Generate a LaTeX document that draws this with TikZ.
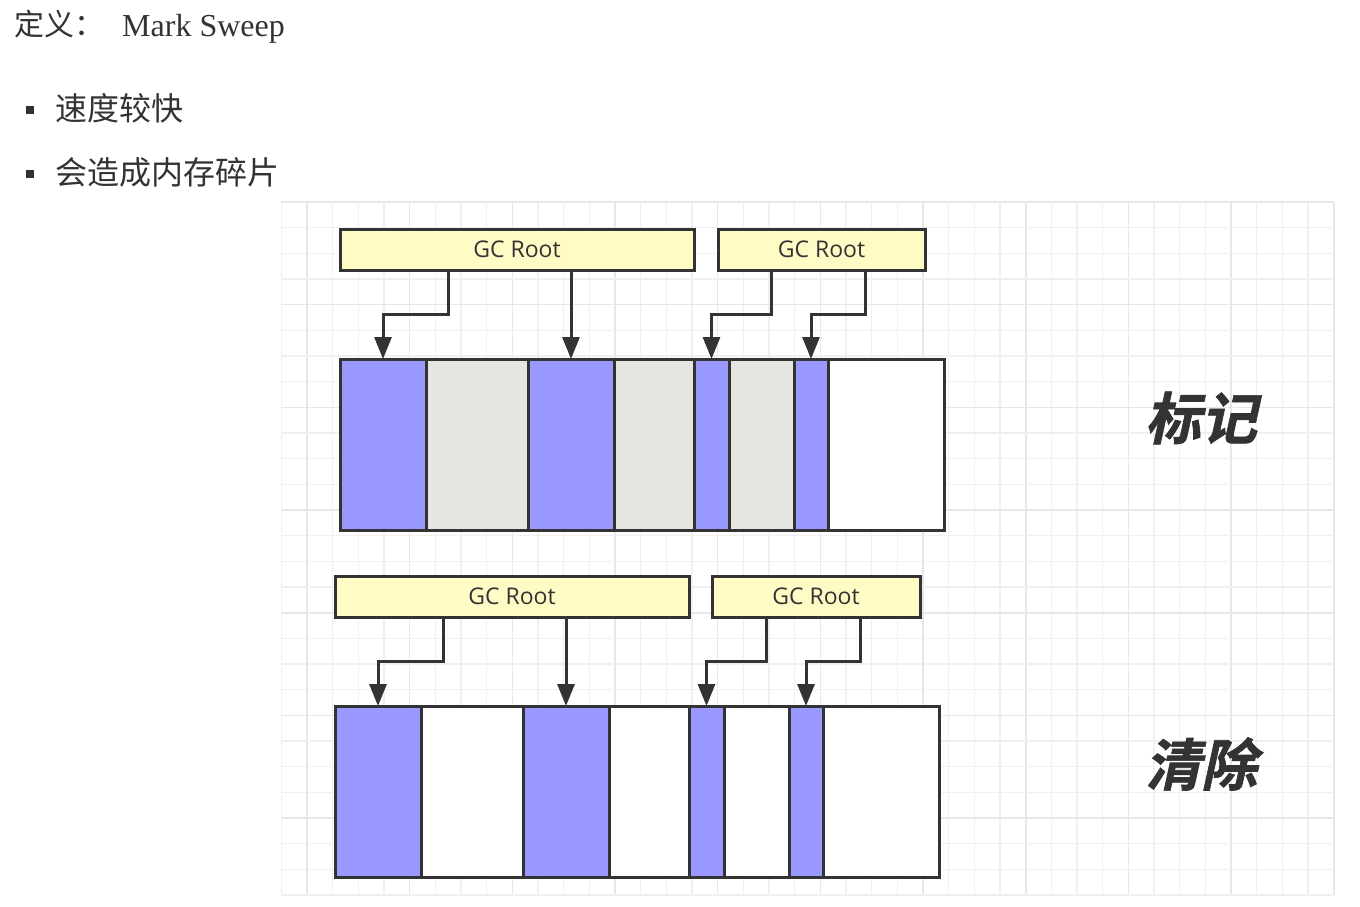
\documentclass[tikz,border=0pt]{standalone}
\usepackage{fontspec}
\setmainfont{Liberation Serif}
\newfontfamily\cjk{Noto Sans CJK SC}
\newfontfamily\cjkbi{Noto Sans CJK SC Bold}[FakeSlant=0.22,FakeBold=1.2]
\newfontfamily\gcfont{Open Sans}
\usetikzlibrary{arrows.meta,calc}
\definecolor{linec}{HTML}{333333}
\definecolor{textc}{HTML}{333333}
\definecolor{rootc}{HTML}{FFFBC4}
\definecolor{bluec}{HTML}{9999FF}
\definecolor{greyc}{HTML}{E6E5E2}
\definecolor{gminc}{HTML}{F0F0F0}
\definecolor{gmajc}{HTML}{E7E7E7}
\begin{document}
\begin{tikzpicture}[x=1pt,y=-1pt,
  gmin/.style={draw=gminc, line width=1.4pt},
  gmaj/.style={draw=gmajc, line width=1.6pt},
  bd/.style={draw=linec, line width=3pt},
  seg/.style={bd, rectangle, inner sep=0pt, outer sep=0pt, anchor=north west, minimum height=171pt},
  root/.style={bd, fill=rootc, rectangle, inner sep=0pt, outer sep=0pt, anchor=north west, minimum height=41pt, text=textc, font=\gcfont\fontsize{23}{23}\selectfont},
  arr/.style={draw=linec, line width=3pt, -{Triangle[length=22pt,width=17pt]}},
  bullet/.style={fill=linec, draw=none, rectangle, inner sep=0pt, minimum size=8.5pt},
  txt/.style={inner sep=0pt, text=textc, anchor=west, font=\cjk\fontsize{32}{32}\selectfont},
  big/.style={inner sep=0pt, text=textc, font=\cjkbi\fontsize{56}{56}\selectfont}
  ]
\useasboundingbox[fill=white] (0,0) rectangle (1360,906);
% grid
\foreach \i in {0,...,41}{
  \pgfmathsetmacro\xx{281.3+25.67*\i}
  \pgfmathtruncatemacro\mm{mod(\i,4)}
  \ifnum\mm=1 \draw[gmaj] (\xx,202) -- (\xx,895); \else \draw[gmin] (\xx,202) -- (\xx,895); \fi
}
\foreach \j in {0,...,27}{
  \pgfmathsetmacro\yy{202+25.67*\j}
  \pgfmathtruncatemacro\mm{mod(\j,4)}
  \ifnum\mm=0 \draw[gmaj] (281,\yy) -- (1334,\yy); \else \draw[gmin] (281,\yy) -- (1334,\yy); \fi
}
% header text
\node[inner sep=0pt, anchor=west, text=textc, font=\cjk\fontsize{30}{30}\selectfont] (def) at (14,24) {定义：};
\node[inner sep=0pt, anchor=base west, text=textc, font=\fontsize{32}{32}\selectfont] (ms) at (122,36) {Mark Sweep};
\node[bullet] (b1) at (30,110) {};
\node[txt] (l1) at (55,108) {速度较快};
\node[bullet] (b2) at (30,174) {};
\node[txt] (l2) at (55,172) {会造成内存碎片};
% ---- top: mark ----
\node[root, minimum width=354pt] (r1) at (340,229) {GC Root};
\node[root, minimum width=207pt] (r2) at (718,229) {GC Root};
\foreach \n/\a/\b/\c in {1/340/426/bluec, 2/426/528/greyc, 3/528/614/bluec, 4/614/694/greyc, 5/694/729/bluec, 6/729/794/greyc, 7/794/828/bluec, 8/828/944/white}{
  \pgfmathsetmacro\ww{\b-\a}
  \node[seg, fill=\c, minimum width=\ww pt] (t\n) at (\a,359) {};
}
\draw[arr] ([xshift=108pt]r1.south west) -- ++(0,44) -| (t1.north);
\draw[arr] (r1.south -| t3.north) -- (t3.north);
\draw[arr] ([xshift=53pt]r2.south west) -- ++(0,44) -| (t5.north);
\draw[arr] ([xshift=147pt]r2.south west) -- ++(0,44) -| (t7.north);
\node[big] (lab1) at (1201,418) {标记};
% ---- bottom: sweep ----
\node[root, minimum width=354pt] (r3) at (335,576) {GC Root};
\node[root, minimum width=208pt] (r4) at (712,576) {GC Root};
\foreach \n/\a/\b/\c in {1/335/421/bluec, 2/421/523/white, 3/523/609/bluec, 4/609/689/white, 5/689/724/bluec, 6/724/789/white, 7/789/823/bluec, 8/823/939/white}{
  \pgfmathsetmacro\ww{\b-\a}
  \node[seg, fill=\c, minimum width=\ww pt] (u\n) at (\a,706) {};
}
\draw[arr] ([xshift=108pt]r3.south west) -- ++(0,44) -| (u1.north);
\draw[arr] (r3.south -| u3.north) -- (u3.north);
\draw[arr] ([xshift=54pt]r4.south west) -- ++(0,44) -| (u5.north);
\draw[arr] ([xshift=148pt]r4.south west) -- ++(0,44) -| (u7.north);
\node[big] (lab2) at (1201,764) {清除};
\end{tikzpicture}
\end{document}
